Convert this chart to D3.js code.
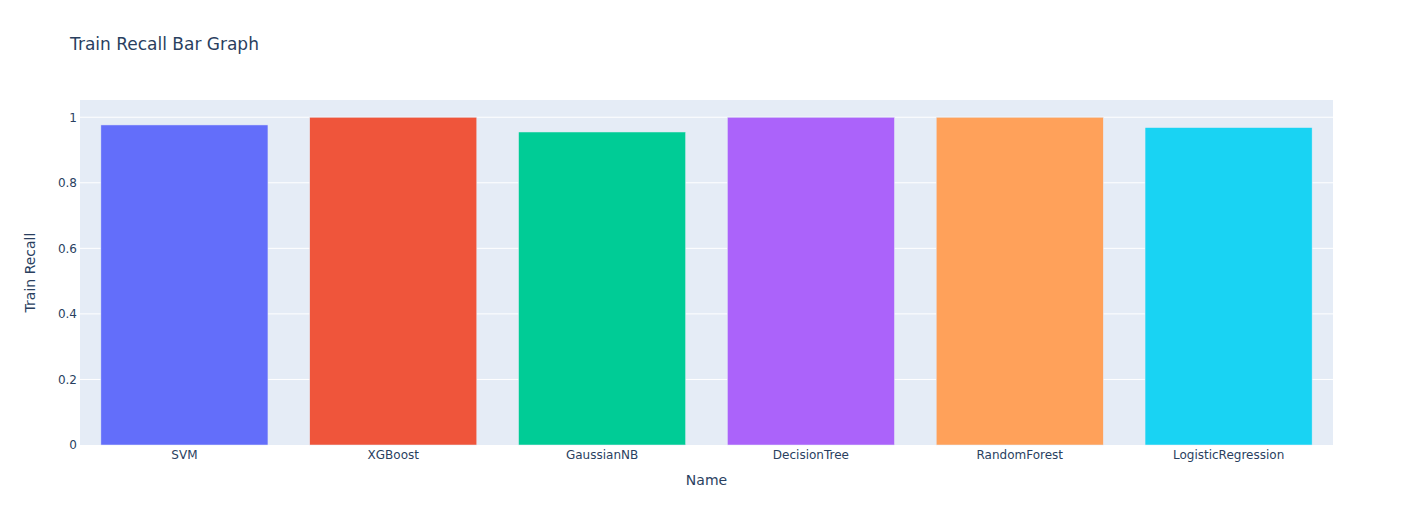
<!DOCTYPE html>
<html><head><meta charset="utf-8">
<script src="https://cdn.jsdelivr.net/npm/d3@7"></script>
<style>body{margin:0;background:#fff}svg{display:block}text{font-family:"DejaVu Sans",verdana,arial,sans-serif}</style>
</head><body><div id="chart"></div>
<script>
const categories = ["SVM","XGBoost","GaussianNB","DecisionTree","RandomForest","LogisticRegression"];
const values = [0.9765, 1.0, 0.955, 1.0, 1.0, 0.9685];
const colors = ["#636efa","#EF553B","#00cc96","#ab63fa","#FFA15A","#19d3f3"];
const yTicks = [0,0.2,0.4,0.6,0.8,1];
const yTickLabels = ["0","0.2","0.4","0.6","0.8","1"];

const W=1413,H=525,m={l:80,r:80,t:100,b:80};
const svg=d3.select("#chart").append("svg").attr("width",W).attr("height",H);
const pw=W-m.l-m.r, ph=H-m.t-m.b;
const g=svg.append("g").attr("transform",`translate(${m.l},${m.t})`);
g.append("rect").attr("width",pw).attr("height",ph).attr("fill","#E5ECF6");
const x=d3.scaleBand().domain(categories).range([0,pw]).paddingInner(0.2).paddingOuter(0.1);
const y=d3.scaleLinear().domain([0,1.0526]).range([ph,0]);
g.selectAll(".grid").data(yTicks.filter(d=>d>0)).enter().append("line")
 .attr("x1",0).attr("x2",pw).attr("y1",d=>y(d)).attr("y2",d=>y(d)).attr("stroke","#fff").attr("stroke-width",1);
g.selectAll(".bar").data(categories).enter().append("rect")
 .attr("x",d=>x(d)).attr("width",x.bandwidth())
 .attr("y",(d,i)=>y(values[i])).attr("height",(d,i)=>y(0)-y(values[i]))
 .attr("fill",(d,i)=>colors[i]).attr("stroke","#E5ECF6").attr("stroke-width",0.5);
const ya=g.append("g").call(d3.axisLeft(y).tickValues(yTicks).tickFormat((d,i)=>yTickLabels[i]).tickSize(0).tickPadding(3));
ya.select(".domain").remove();
ya.selectAll("text").attr("fill","#2a3f5f").style("font-size","12px");
const xa=g.append("g").attr("transform",`translate(0,${ph})`).call(d3.axisBottom(x).tickSize(0).tickPadding(5));
xa.select(".domain").remove();
xa.selectAll("text").attr("fill","#2a3f5f").style("font-size","12px");
svg.append("text").attr("x",70).attr("y",50).attr("fill","#2a3f5f").style("font-size","17px").text("Train Recall Bar Graph");
svg.append("text").attr("x",m.l+pw/2).attr("y",485).attr("text-anchor","middle").attr("fill","#2a3f5f").style("font-size","14px").text("Name");
svg.append("text").attr("transform",`translate(35,${m.t+ph/2}) rotate(-90)`).attr("text-anchor","middle").attr("fill","#2a3f5f").style("font-size","14px").text("Train Recall");
</script></body></html>
